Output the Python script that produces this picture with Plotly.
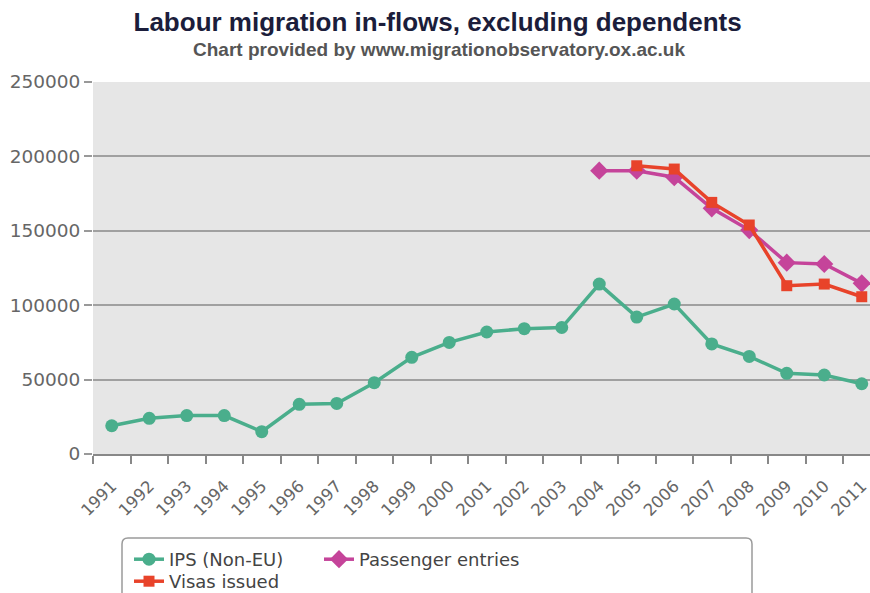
import plotly.graph_objects as go

years = [str(y) for y in range(1991, 2012)]
ips_non_eu = [19000, 24000, 25800, 25800, 15000, 33400, 34000, 47900, 65000,
              75000, 82000, 84200, 85000, 114200, 92000, 100800, 74000, 65600,
              54200, 53100, 47200]
passenger_years = [str(y) for y in range(2004, 2012)]
passenger_entries = [190400, 190400, 186000, 165100, 150500, 128600, 127700, 114700]
visa_years = [str(y) for y in range(2005, 2012)]
visas_issued = [193700, 191500, 169100, 153900, 113100, 114200, 105700]
y_ticks = [0, 50000, 100000, 150000, 200000, 250000]

W, H = 870, 593
L, R, T, B = 93, 0, 82, 139

fig = go.Figure()
fig.add_trace(go.Scatter(
    x=years, y=ips_non_eu, name="IPS (Non-EU)", mode="lines+markers",
    line=dict(color="#4aae8c", width=3.5),
    marker=dict(symbol="circle", size=13, color="#4aae8c"),
    legend="legend", legendwidth=145))
fig.add_trace(go.Scatter(
    x=passenger_years, y=passenger_entries, name="Passenger entries", mode="lines+markers",
    line=dict(color="#c5449a", width=3.5),
    marker=dict(symbol="diamond", size=14, color="#c5449a"),
    legend="legend"))
fig.add_trace(go.Scatter(
    x=visa_years, y=visas_issued, name="Visas issued", mode="lines+markers",
    line=dict(color="#e8432a", width=3.5),
    marker=dict(symbol="square", size=11, color="#e8432a"),
    legend="legend2"))

# legend box (rounded rectangle)
pw, ph = W - L - R, H - T - B
def px_x(p):
    return (p - L) / pw
def px_y(p):
    return (H - B - p) / ph
x0, x1 = px_x(122), px_x(752)
y0, y1 = px_y(538), px_y(610)
rx, ry = 6 / pw, 6 / ph
path = (f"M {x0+rx},{y0} L {x1-rx},{y0} Q {x1},{y0} {x1},{y0-ry} "
        f"L {x1},{y1} L {x0},{y1} L {x0},{y0-ry} Q {x0},{y0} {x0+rx},{y0} Z")
fig.add_shape(type="path", path=path, xref="paper", yref="paper",
              line=dict(color="#9a9a9a", width=1.5), fillcolor="rgba(255,255,255,0)")

fig.update_layout(
    width=W, height=H,
    margin=dict(l=L, r=R, t=T, b=B, pad=0),
    paper_bgcolor="white", plot_bgcolor="#e6e6e6",
    font=dict(family="DejaVu Sans", color="#555"),
    title=dict(text="<b>Labour migration in-flows, excluding dependents</b>",
               x=0.503, xref="container", xanchor="center",
               y=1 - 22 / H, yref="container", yanchor="middle",
               font=dict(family="Liberation Sans", size=26, color="#1b1d3b")),
    annotations=[dict(text="<b>Chart provided by www.migrationobservatory.ox.ac.uk</b>",
                      x=px_x(439), xref="paper", y=px_y(49), yref="paper",
                      xanchor="center", yanchor="middle", showarrow=False,
                      font=dict(family="Liberation Sans", size=19, color="#555"))],
    xaxis=dict(type="category", categoryorder="array", categoryarray=years,
               range=[-0.5, -0.5 + pw / 37.5],
               tickangle=-45, tickson="boundaries", ticks="outside", ticklen=8,
               tickcolor="#888", tickwidth=1.5, ticklabelstandoff=14,
               showgrid=False, showline=True, linecolor="#888", linewidth=2,
               tickfont=dict(family="DejaVu Sans", size=16.5, color="#666"),
               fixedrange=True),
    yaxis=dict(range=[0, 250000], tickvals=y_ticks, ticktext=[str(v) for v in y_ticks],
               ticks="outside", ticklen=8, tickcolor="#999", tickwidth=1.5,
               showgrid=True, gridcolor="#a0a0a0", gridwidth=1.5,
               zeroline=False, showline=False,
               tickfont=dict(family="DejaVu Sans", size=18.5, color="#666"),
               fixedrange=True),
    legend=dict(orientation="h", xref="container", yref="container",
                x=129 / W, y=1 - 541 / H, xanchor="left", yanchor="top",
                bgcolor="rgba(0,0,0,0)", borderwidth=0,
                font=dict(family="DejaVu Sans", size=18, color="#444")),
    legend2=dict(orientation="h", xref="container", yref="container",
                 x=129 / W, y=1 - 563 / H, xanchor="left", yanchor="top",
                 bgcolor="rgba(0,0,0,0)", borderwidth=0,
                 font=dict(family="DejaVu Sans", size=18, color="#444")),
    showlegend=True,
)

fig.write_html("out.html")
